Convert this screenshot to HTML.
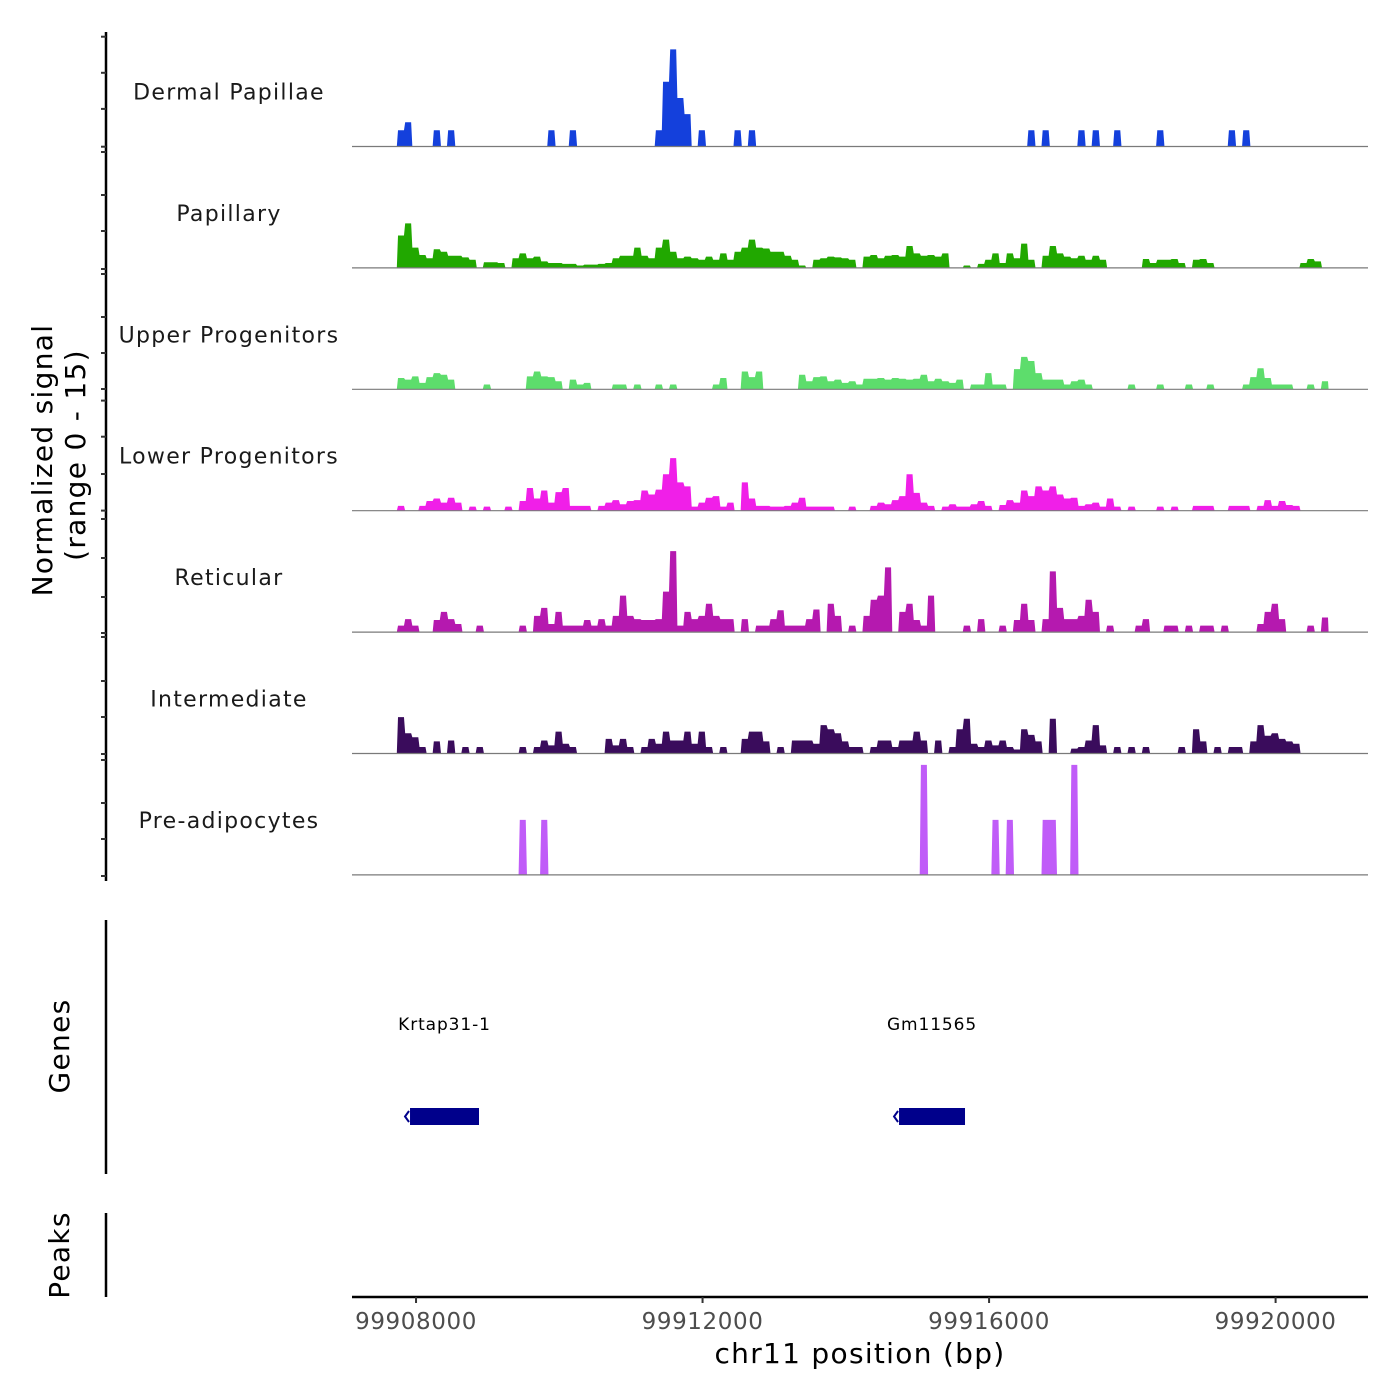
<!DOCTYPE html>
<html><head><meta charset="utf-8"><style>
html,body{margin:0;padding:0;background:#fff}
svg{display:block}
text{font-family:"DejaVu Sans","Liberation Sans",sans-serif}
</style></head><body>
<svg id="chart" width="1400" height="1400" viewBox="0 0 1400 1400" xmlns="http://www.w3.org/2000/svg">
<g id="axes"></g>
<g id="tracks"></g>
<g id="genes"></g>
</svg>
<script>
const binStart = 99907640;
const binSize = 100;
const trackNames = ["Dermal Papillae","Papillary","Upper Progenitors","Lower Progenitors","Reticular","Intermediate","Pre-adipocytes"];
const trackColors = ["#1440dc","#21a800","#5ddd6c","#f01fe8","#b519af","#3a0c5c","#c05cf8"];
const dermalPapillae = [
0,2,3,0,0,0,2,0,2,0, 0,0,0,0,0,0,0,0,0,0, 0,0,2,0,0,2,0,0,0,0, 0,0,0,0,0,0,0,2,8,12,
6,4,0,2,0,0,0,0,2,0, 2,0,0,0,0,0,0,0,0,0, 0,0,0,0,0,0,0,0,0,0, 0,0,0,0,0,0,0,0,0,0,
0,0,0,0,0,0,0,0,0,2, 0,2,0,0,0,0,2,0,2,0, 0,2,0,0,0,0,0,2,0,0, 0,0,0,0,0,0,0,2,0,2,
0,0,0,0,0,0,0,0,0,0, 0];
const papillary = [
0,4,5.5,2.5,1.6,1.2,2.3,2,1.5,1.5, 1.3,1,0,0.7,0.7,0.6,0,1.2,1.8,1.2, 1.4,0.8,0.6,0.6,0.5,0.5,0.3,0.4,0.4,0.5,
0.6,1.2,1.5,1.5,2.5,1.5,1.2,2.5,3.5,2, 1.2,1.4,1.2,1,1.4,1,1.8,1,2,2.5, 3.5,2.5,2.4,2,2,1.5,1,0.3,0,1,
1.2,1.4,1.3,1.2,1,0,1.4,1.6,1.2,1.5, 1.6,1.4,2.7,1.8,1.5,1.6,1.4,1.8,0,0, 0.3,0,0.5,1,1.8,0.6,1.8,1.2,3,1,
0,1.5,2.7,1.8,1.4,1.2,1.5,1,1.5,1, 0,0,0,0,0,1.1,0.6,1,1,1.1, 0.6,0,1,1.1,0.6,0,0,0,0,0,
0,0,0,0,0,0,0,0.6,1.1,0.8, 0];
const upperProgenitors = [
0,1.4,1.2,1.6,0.8,1.5,2,1.8,1.2,0, 0,0,0,0.6,0,0,0,0,0,1.6, 2.2,1.6,1.5,1,0,1.2,0.6,0.8,0,0,
0,0.6,0.6,0,0.6,0,0,0.6,0,0.6, 0,0,0,0,0,0.6,1.4,0,0,2.2, 1.5,2.2,0,0,0,0,0,1.8,1,1.5,
1.6,1,1.2,0.8,1,0.6,1.3,1.3,1.4,1.2, 1.4,1.3,1.2,1.3,1.8,1,1.3,1,0.8,1.2, 0,0.6,0.6,2,0.6,0.6,0,2.5,4,3.5,
2,1.2,1.2,1.2,0.6,1,1.2,0.6,0,0, 0,0,0,0.6,0,0,0,0.6,0,0, 0,0.6,0,0,0.6,0,0,0,0,0.6,
1.5,2.6,1.4,0.6,0.6,0.6,0,0,0.6,0, 1];
const lowerProgenitors = [
0,0.6,0,0,0.6,1.2,1.5,1,1.6,1, 0,0.5,0,0.5,0,0,0.5,0,1.2,2.8, 1.5,2.5,1,2.3,2.8,0.6,0.6,0.6,0,0.6,
1,1.3,0.8,1.2,1.3,2.5,2,2.6,4.5,6.5, 3.5,3,0.5,1,1.6,1.8,0.5,1,0,3.5, 1.5,0.6,0.6,0.5,0.5,0.6,1,1.6,0.5,0.5,
0.5,0.5,0,0,0.5,0,0,0.6,1,0.8, 1.3,1.8,4.5,2.2,1,0.6,0,0.5,0.8,0.5, 0.5,0.8,1.2,0.6,0,0.7,1.3,1,2.5,1.8,
3,2.5,3,2,1.5,1.6,0.6,0.8,1,0.5, 1.5,0.5,0,0.5,0,0,0,0.5,0,0.5, 0,0,0.6,0.6,0.6,0,0,0.6,0.6,0.6,
0,0.6,1.3,0.6,1.2,0.7,0.6,0,0,0, 0];
const reticular = [
0,0.8,1.6,0.8,0,0,1.5,2.5,1.6,1, 0,0,0.8,0,0,0,0,0,0.8,0, 2,3,1,2.5,0.8,0.8,0.8,1.5,0.8,1.6,
0.8,2,4.5,2,1.6,1.5,1.5,1.6,5,10, 0.8,2.5,1.6,2,3.5,2,1.6,1.6,0,1.6, 0,0.8,0.8,1.6,2.7,0.8,0.8,0.8,1.6,2.8,
0,3.5,2,0,0.8,0,2,4,4.5,8, 0,2.5,3.5,1.5,0.8,4.5,0,0,0,0, 0.8,0,1.6,0,0,0.8,0,1.5,3.5,1.5,
0,1.6,7.5,3,1.6,1.6,2,4,2.5,0, 0.8,0,0,0,0.8,1.6,0,0,0.8,0.8, 0,0.8,0,0.8,0.8,0,0.8,0,0,0,
0,1,2.5,3.5,1.6,0,0,0,0.8,0, 1.8];
const intermediate = [
0,4.5,2.5,2,0.8,0,1.5,0,1.6,0, 0.8,0,0.8,0,0,0,0,0,0.8,0, 0.8,1.6,1,2.7,1.2,0.8,0,0,0,0,
1.8,1,1.8,0.8,0,0.8,1.8,1.2,2.7,1.6, 1.6,2.7,1.2,2.7,0.8,0,0.8,0,0,1.8, 2.7,2.7,1.5,0,0.8,0,1.6,1.6,1.6,1.2,
3.5,3,2.5,1.5,0.8,0.8,0,0.8,1.6,1.6, 0.8,1.6,1.6,2.7,1.6,0,1.6,0,0.8,3, 4.3,1.2,0.8,1.6,1,1.6,0.8,0.5,3,2.3,
1.5,0,4.3,0,0,0.6,0.8,1.6,3.5,1, 0,0.8,0,0.8,0,0.8,0,0,0,0, 0.8,0,3,1.5,0,0.8,0,0.8,0.8,0,
1.5,3.5,2.2,2.5,1.8,1.5,1.2,0,0,0, 0];
const preAdipocytes = [
0,0,0,0,0,0,0,0,0,0, 0,0,0,0,0,0,0,0,6.8,0, 0,6.8,0,0,0,0,0,0,0,0,
0,0,0,0,0,0,0,0,0,0, 0,0,0,0,0,0,0,0,0,0, 0,0,0,0,0,0,0,0,0,0,
0,0,0,0,0,0,0,0,0,0, 0,0,0,0,13.6,0,0,0,0,0, 0,0,0,0,6.8,0,6.8,0,0,0,
0,6.8,6.8,0,0,13.6,0,0,0,0, 0,0,0,0,0,0,0,0,0,0, 0,0,0,0,0,0,0,0,0,0,
0,0,0,0,0,0,0,0,0,0, 0];
const trackValues = [dermalPapillae,papillary,upperProgenitors,lowerProgenitors,reticular,intermediate,preAdipocytes];
const xTicks = [99908000,99912000,99916000,99920000];
const geneNames = ["Krtap31-1","Gm11565"];
const geneStarts = [99907916,99914743];
const geneEnds = [99908879,99915664];
const yRangeMax = 15;

const NS="http://www.w3.org/2000/svg";
const X0=352,X1=1368,BP0=99907106,BP1=99921290;
function xs(bp){return X0+(bp-BP0)/(BP1-BP0)*(X1-X0);}
const trackH=121.4, firstBase=146.5;
function base(k){return firstBase+k*trackH;}
function ys(k,v){return base(k)-v/yRangeMax*trackH;}
function mk(tag,attrs,parent){const e=document.createElementNS(NS,tag);for(const a in attrs)e.setAttribute(a,attrs[a]);parent.appendChild(e);return e;}

const axes=document.getElementById('axes'), tracks=document.getElementById('tracks'), genes=document.getElementById('genes');

let l=mk('line',{x1:106,y1:32,x2:106,y2:881,stroke:'#000','stroke-width':2.5},axes);


const tickYs=[36.7,72.8,108.9,146.7,152,195,231,269,274,317,353,389,400.6,436.7,474,510.6,519,558,597,633,637,681,717,754,760,803,839,876];
tickYs.forEach(y=>{const t=mk('line',{x1:101,y1:y,x2:106,y2:y,stroke:'#333','stroke-width':2},axes);

});
l=mk('line',{x1:106,y1:920,x2:106,y2:1174,stroke:'#000','stroke-width':2.5},axes);


l=mk('line',{x1:106,y1:1213,x2:106,y2:1297,stroke:'#000','stroke-width':2.5},axes);


let t=mk('text',{x:0,y:0,'font-size':28,'letter-spacing':1.3,'text-anchor':'middle',transform:'translate(52,460) rotate(-90)',fill:'#000'},axes);
t.textContent='Normalized signal';


t=mk('text',{x:0,y:0,'font-size':28,'letter-spacing':1.3,'text-anchor':'middle',transform:'translate(85,455) rotate(-90)',fill:'#000'},axes);
t.textContent='(range 0 - 15)';


t=mk('text',{x:0,y:0,'font-size':28,'letter-spacing':1.3,'text-anchor':'middle',transform:'translate(69,1046) rotate(-90)',fill:'#000'},axes);
t.textContent='Genes';


t=mk('text',{x:0,y:0,'font-size':28,'letter-spacing':1.3,'text-anchor':'middle',transform:'translate(69,1255) rotate(-90)',fill:'#000'},axes);
t.textContent='Peaks';



l=mk('line',{x1:352,y1:1297,x2:1368,y2:1297,stroke:'#000','stroke-width':2.5},axes);


xTicks.forEach(v=>{
  const x=xs(v);
  const tk=mk('line',{x1:x,y1:1297,x2:x,y2:1303,stroke:'#333','stroke-width':2},axes);
  
  
  const tl=mk('text',{x:x,y:1329,'font-size':23,'letter-spacing':0.6,'text-anchor':'middle',fill:'#4d4d4d'},axes);
  tl.textContent=String(v);
  
  
});
t=mk('text',{x:860,y:1363,'font-size':28,'letter-spacing':1.3,'text-anchor':'middle',fill:'#000'},axes);
t.textContent='chr11 position (bp)';



trackValues.forEach((vals,k)=>{
  const g=mk('g',{},tracks);
  
  
  const b=base(k);
  let d='M'+xs(binStart).toFixed(2)+','+b;
  vals.forEach((v,i)=>{
    const xa=xs(binStart+i*binSize), xb=xs(binStart+(i+1)*binSize), y=ys(k,v);
    d+=' L'+(xa+0.6).toFixed(2)+','+y.toFixed(2)+' L'+(xb-0.6).toFixed(2)+','+y.toFixed(2);
  });
  d+=' L'+xs(binStart+vals.length*binSize).toFixed(2)+','+b+' Z';
  const p=mk('path',{d:d,fill:trackColors[k],stroke:'none'},g);
  
  
  const bl=mk('line',{x1:352,y1:b,x2:1368,y2:b,stroke:'#7a7a7a','stroke-width':1.2},g);
  
  
  const lb=mk('text',{x:229,y:b-47,'font-size':22,'text-anchor':'middle',fill:'#1a1a1a','letter-spacing':'1.3'},g);
  lb.textContent=trackNames[k];
  
  
});

geneNames.forEach((n,i)=>{
  const x0=xs(geneStarts[i]), x1=xs(geneEnds[i]);
  const g=mk('g',{},genes);
  
  
  const r=mk('rect',{x:x0,y:1108,width:x1-x0,height:17,fill:'#00008b'},g);
  
  
  const a=mk('path',{d:`M${x0-1},1111 L${x0-5},1116.5 L${x0-1},1122`,fill:'none',stroke:'#00008b','stroke-width':2},g);
  
  
  const lt=mk('text',{x:(x0+x1)/2,y:1030,'font-size':17,'letter-spacing':0.9,'text-anchor':'middle',fill:'#000'},g);
  lt.textContent=n;
  
  
});
</script>
</body></html>
